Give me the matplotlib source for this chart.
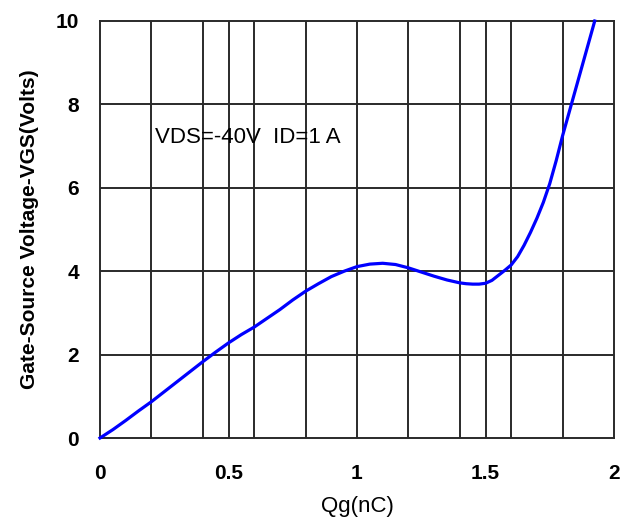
import matplotlib
matplotlib.use("Agg")
import matplotlib.pyplot as plt

# Data
qg = [0, 0.05, 0.1, 0.15, 0.2, 0.25, 0.3, 0.35, 0.4, 0.45, 0.5, 0.55, 0.6, 0.65,
      0.7, 0.75, 0.8, 0.85, 0.9, 0.95, 1.0, 1.05, 1.1, 1.15, 1.2, 1.25, 1.3,
      1.35, 1.4, 1.425, 1.45, 1.475, 1.5, 1.525, 1.55, 1.575, 1.6, 1.625, 1.65,
      1.675, 1.7, 1.725, 1.75, 1.775, 1.8, 1.825, 1.85, 1.875, 1.9, 1.925]
vgs = [0, 0.2, 0.42, 0.65, 0.87, 1.11, 1.35, 1.59, 1.83, 2.06, 2.28, 2.48, 2.66, 2.87,
       3.08, 3.31, 3.52, 3.70, 3.87, 4.00, 4.11, 4.17, 4.19, 4.16, 4.08, 3.98, 3.88,
       3.79, 3.72, 3.70, 3.69, 3.69, 3.71, 3.78, 3.90, 4.02, 4.15, 4.35, 4.62,
       4.93, 5.27, 5.65, 6.1, 6.65, 7.25, 7.8, 8.35, 8.9, 9.45, 10.0]

x_ticks = [0, 0.5, 1, 1.5, 2]
x_tick_labels = ["0", "0.5", "1", "1.5", "2"]
x_grid = [0.2, 0.4, 0.5, 0.6, 0.8, 1.0, 1.2, 1.4, 1.5, 1.6, 1.8]
y_ticks = [0, 2, 4, 6, 8, 10]
y_tick_labels = ["0", "2", "4", "6", "8", "10"]

plt.rcParams['font.family'] = ['Liberation Sans', 'DejaVu Sans']

fig = plt.figure(figsize=(6.2, 5.3), dpi=100)
ax = fig.add_axes([100/620, 1-438/530, 514/620, 417/530])

gridc = '#2a2a2a'
for xv in x_grid:
    ax.axvline(xv, color=gridc, lw=1.4, zorder=1)
for yv in y_ticks[1:-1]:
    ax.axhline(yv, color=gridc, lw=1.4, zorder=1)

ax.plot(qg, vgs, color='#0000ff', lw=2.3, zorder=3, clip_on=False,
        solid_joinstyle='round')

ax.set_xlim(0, 2)
ax.set_ylim(0, 10)
ax.set_xticks(x_ticks)
ax.set_xticklabels(x_tick_labels, fontsize=15, fontweight='bold')
ax.set_yticks(y_ticks)
ax.set_yticklabels(y_tick_labels, fontsize=15, fontweight='bold')
ax.tick_params(axis='x', length=0, pad=19)
ax.tick_params(axis='y', length=0, pad=15)
for s in ax.spines.values():
    s.set_color(gridc)
    s.set_linewidth(1.4)

ax.set_xlabel("Qg(nC)", fontsize=16, labelpad=9)
ax.set_ylabel("Gate-Source Voltage-VGS(Volts)", fontsize=15, fontweight='bold', labelpad=12)

ax.text(0.215, 7.2, "VDS=-40V  ID=1 A", fontsize=16, va='center', ha='left', zorder=4)

fig.savefig("out.png", dpi=100)
